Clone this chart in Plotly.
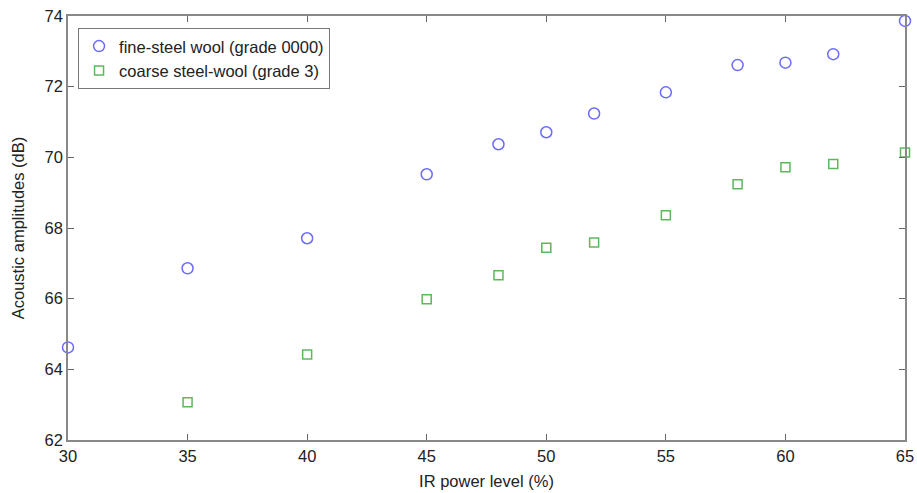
import plotly.graph_objects as go

power = [30, 35, 40, 45, 48, 50, 52, 55, 58, 60, 62, 65]
fine_db = [64.62, 66.86, 67.71, 69.52, 70.37, 70.71, 71.24, 71.84, 72.61, 72.68, 72.92, 73.86]
power_coarse = [35, 40, 45, 48, 50, 52, 55, 58, 60, 62, 65]
coarse_db = [63.07, 64.42, 65.98, 66.66, 67.44, 67.59, 68.36, 69.24, 69.72, 69.81, 70.14]

x_ticks = [30, 35, 40, 45, 50, 55, 60, 65]
y_ticks = [62, 64, 66, 68, 70, 72, 74]

fig = go.Figure()
fig.add_trace(go.Scatter(
    x=power, y=fine_db, mode="markers", name="fine-steel wool (grade 0000)",
    marker=dict(symbol="circle-open", size=11, color="#6b6bff", line=dict(width=1.5)),
    cliponaxis=False))
fig.add_trace(go.Scatter(
    x=power_coarse, y=coarse_db, mode="markers", name="coarse steel-wool (grade 3)",
    marker=dict(symbol="square-open", size=9, color="#5cb85c", line=dict(width=1.5)),
    cliponaxis=False))

axis_common = dict(showline=True, linecolor="#888888", linewidth=1.5, mirror="ticks",
                   ticks="inside", ticklen=6, tickcolor="#666666", showgrid=False,
                   zeroline=False, automargin=False,
                   tickfont=dict(size=16.5, color="#222222"))

fig.update_layout(
    width=917, height=493,
    margin=dict(l=68, r=12, t=16, b=53),
    paper_bgcolor="white", plot_bgcolor="white",
    font=dict(family="Liberation Sans, Arial, sans-serif", color="#222222"),
    xaxis=dict(range=[30, 65], tickvals=x_ticks,
               title=dict(text="IR power level (%)", font=dict(size=16.5), standoff=12),
               **axis_common),
    yaxis=dict(range=[62, 74], tickvals=y_ticks,
               title=dict(text="Acoustic amplitudes (dB)", font=dict(size=16.5), standoff=16),
               **axis_common),
    legend=dict(x=0.012, y=0.972, xanchor="left", yanchor="top",
                bordercolor="#777777", borderwidth=1, bgcolor="white",
                font=dict(size=16.5, color="#222222"), tracegroupgap=0),
    showlegend=True,
)

fig.write_html("out.html")
